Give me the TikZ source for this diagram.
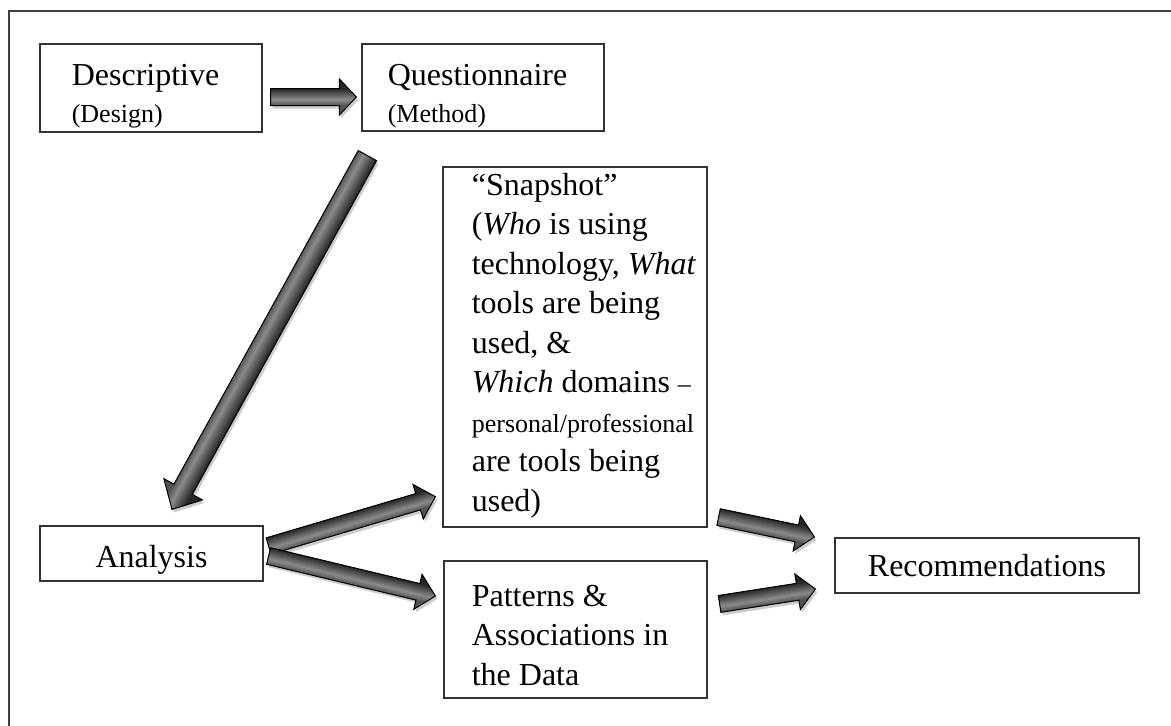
\documentclass[tikz,border=0pt]{standalone}
\usepackage{fontspec}
\setmainfont{Liberation Serif}
\usetikzlibrary{calc, positioning}

\tikzset{
  box/.style={draw=black!80, line width=0.6pt, inner sep=0pt, font=\fontsize{16}{18.5}\selectfont},
  txt/.style={align=left, inner sep=0pt, anchor=north west, font=\fontsize{16}{19.75}\selectfont},
  frame/.style={draw=black!75, line width=1pt},
  fatarrow/.style={draw=black, line width=0.5pt, fill=black!60},
}

\newcommand{\smalltxt}[1]{{\fontsize{13}{15}\selectfont #1}}

% block arrow: tail, tip, half shaft, half head, head length (in pt)
\newcommand{\blockarrow}[5]{%
  \coordinate (bah) at ($(#2)!#5pt!(#1)$);
  \def\arrowpath{($(#1)!#3pt!90:(#2)$) -- ($(bah)!#3pt!-90:(#1)$) -- ($(bah)!#4pt!-90:(#1)$) -- (#2)
    -- ($(bah)!#4pt!90:(#1)$) -- ($(bah)!#3pt!90:(#1)$) -- ($(#1)!#3pt!-90:(#2)$) -- cycle}
  \begin{scope}[transform canvas={shift={(1pt,-1.5pt)}}]
    \fill[black, opacity=0.2] \arrowpath;
  \end{scope}
  \pgfmathsetmacro{\oa}{-#4}\pgfmathsetmacro{\ob}{-#4+0.5}
  \draw[fatarrow, path picture={
    \foreach \o in {\oa,\ob,...,#4}{
      \pgfmathsetmacro{\barpos}{max(-1,min(1,\o/#3))}
      \pgfmathsetmacro{\barcol}{\barpos>=-0.3 ? 45+40*(\barpos+0.3)/1.3 : 45+23*(-0.3-\barpos)/0.7}
      \draw[line width=0.7pt, black!\barcol] ($(#1)!\o pt!90:(#2)$) -- ($(#2)!\o pt!-90:(#1)$);
    }}] \arrowpath;
}

\begin{document}
\begin{tikzpicture}[x=0.5pt, y=-0.5pt]
\useasboundingbox (0,0) rectangle (1171,725);
\draw[frame] (9,11) rectangle (1200,760);

\node[box, minimum width=111pt, minimum height=44pt] (desc) at (151,88) {};
\node[box, minimum width=121pt, minimum height=43.5pt] (quest) at (483,87.5) {};
\node[box, minimum width=132pt, minimum height=180pt] (snap) at (575,347) {};
\node[box, minimum width=111.5pt, minimum height=27.5pt, text height=13.5pt, text depth=0pt] (anal) at (151.5,553.5) {Analysis};
\node[box, minimum width=131.5pt, minimum height=68.5pt] (patt) at (575.5,629.5) {};
\node[box, minimum width=152pt, minimum height=27.5pt] (reco) at (987,565.5) {Recommendations};

\node[txt, font=\fontsize{16}{18.5}\selectfont] (desctext) at ([xshift=16pt, yshift=-10.5pt]desc.north west)
  {Descriptive\\\smalltxt{(Design)}};
\node[txt, font=\fontsize{16}{18.5}\selectfont] (questtext) at ([xshift=13pt, yshift=-10.5pt]quest.north west)
  {Questionnaire\\\smalltxt{(Method)}};
\node[txt] (snaptext) at ([xshift=14.5pt, yshift=-3pt]snap.north west)
  {“Snapshot”\\(\textit{Who} is using\\technology, \textit{What}\\tools are being\\used, \&\\
   \textit{Which} domains \smalltxt{–}\\\smalltxt{personal/professional}\\are tools being\\used)};
\node[txt] (patttext) at ([xshift=14pt, yshift=-12pt]patt.north west)
  {Patterns \&\\Associations in\\the Data};

\coordinate (d2q-s) at ([xshift=4pt, yshift=-4.5pt]desc.east);
\coordinate (d2q-e) at ([xshift=-2.5pt, yshift=-4.75pt]quest.west);
\coordinate (q2a-s) at ([xshift=3pt, yshift=-12pt]quest.south west);
\coordinate (q2a-e) at ([xshift=10.25pt, yshift=8pt]anal.north);
\coordinate (a2s-s) at ([xshift=2.5pt, yshift=3.75pt]anal.east);
\coordinate (a2s-e) at ([xshift=-3.5pt, yshift=15.5pt]snap.south west);
\coordinate (a2p-s) at ([xshift=2.5pt, yshift=-1.25pt]anal.east);
\coordinate (a2p-e) at ([xshift=-4pt, yshift=16.75pt]patt.west);
\coordinate (s2r-s) at ([xshift=5.5pt, yshift=5.25pt]snap.south east);
\coordinate (s2r-e) at ([xshift=-10pt, yshift=14.25pt]reco.west);
\coordinate (p2r-s) at ([xshift=6pt, yshift=-21.75pt]patt.north east);
\coordinate (p2r-e) at ([xshift=-9.5pt, yshift=-11.75pt]reco.west);

\blockarrow{d2q-s}{d2q-e}{4.25}{9}{8.5}
\blockarrow{q2a-s}{q2a-e}{5.25}{11}{11.5}
\blockarrow{a2s-s}{a2s-e}{4.25}{9}{9}
\blockarrow{a2p-s}{a2p-e}{4.25}{9}{9}
\blockarrow{s2r-s}{s2r-e}{4.25}{9}{9}
\blockarrow{p2r-s}{p2r-e}{4.25}{9}{9}

\end{tikzpicture}
\end{document}
